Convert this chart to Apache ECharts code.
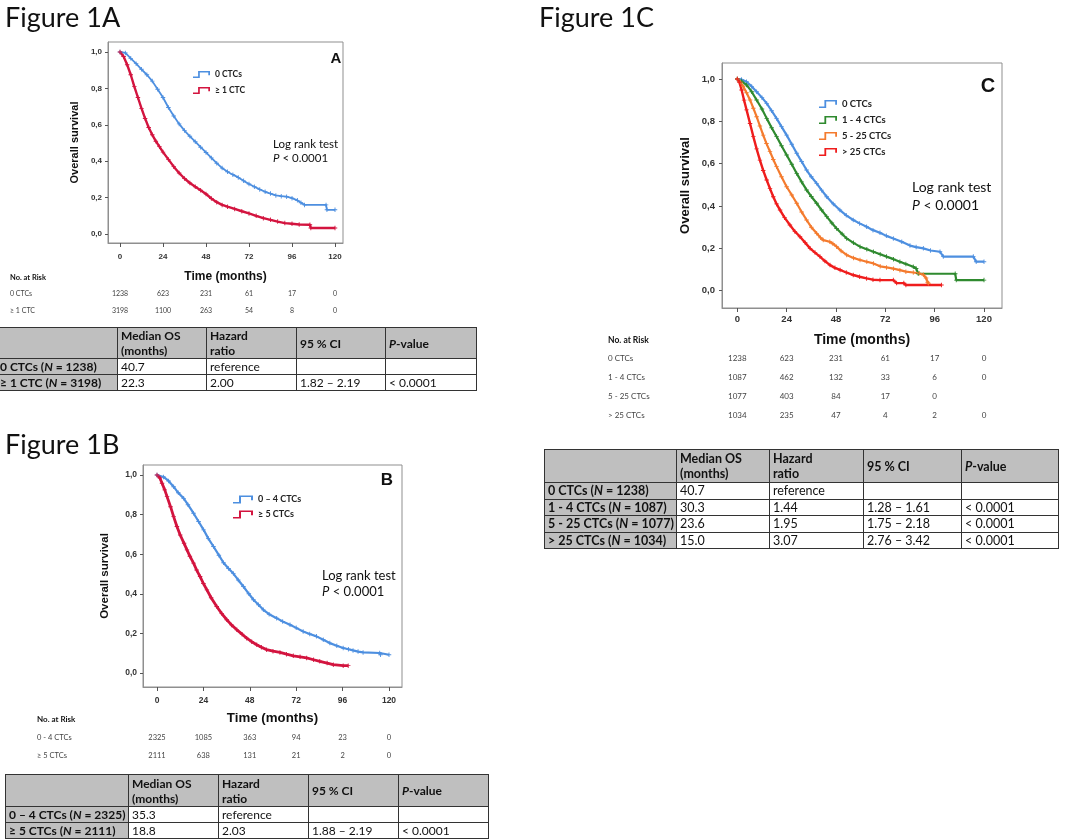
<!DOCTYPE html>
<html>
<head>
<meta charset="utf-8">
<title>Figure 1 - overall survival by CTC count</title>
<script src="https://cdn.jsdelivr.net/npm/echarts@6/dist/echarts.min.js"></script>
<style>
    html, body { margin: 0; padding: 0; background: #fff; }
    #page { position: relative; width: 1080px; height: 839px; overflow: hidden; font-family: Lato, "Open Sans", sans-serif; color: #111; }
    #chart { position: absolute; left: 0; top: 0; width: 1080px; height: 839px; }
    .txt { position: absolute; white-space: nowrap; }
    .fig { font-size: 27px; line-height: 32px; }
    .letter { font-family: "Liberation Sans", Arial, sans-serif; font-weight: bold; transform: translate(-50%, -50%); }
    .risk { position: absolute; white-space: nowrap; color: #444; transform: translateY(-50%); }
    .risk.num { transform: translate(-50%, -50%); }
    .risk.head { font-weight: bold; color: #111; }
    table.sum { position: absolute; border-collapse: collapse; table-layout: fixed; font-size: 12px; line-height: 15px; }
    table.sum td { border: 1.5px solid #333; padding: 0 3px; background: #fff; vertical-align: middle; white-space: nowrap; overflow: hidden; }
    table.sum tr:first-child td { background: #bfbfbf; font-weight: bold; }
    table.sum td:first-child { background: #bfbfbf; font-weight: bold; }
</style>
</head>
<body>
<div id="page">
    <div id="chart"></div>
</div>
<script>
    // ticks shared by the three panels
    var timeTicks = [0, 24, 48, 72, 96, 120];
    var survTicks = [0, 0.2, 0.4, 0.6, 0.8, 1.0];

    // Figure 1A, [month, overall survival]
    var survA0 = [[0,1],[3,0.995],[6,0.965],[9,0.936],[12,0.905],[15,0.875],[18,0.84],[21,0.795],[24,0.75],[27,0.695],[30,0.648],[33,0.605],[36,0.568],[39,0.537],[42,0.507],[45,0.477],[48,0.448],[51,0.418],[54,0.389],[57,0.362],[60,0.342],[63,0.326],[66,0.311],[69,0.292],[72,0.275],[75,0.26],[78,0.245],[81,0.232],[84,0.222],[87,0.212],[90,0.208],[93,0.205],[96,0.197],[99,0.185],[101,0.172],[103,0.16],[115,0.16],[115.5,0.133],[120,0.133]];
    var survA1 = [[0,1],[2,0.975],[4,0.93],[6,0.875],[8,0.81],[10,0.75],[12,0.69],[14,0.635],[16,0.585],[18,0.545],[20,0.51],[22,0.48],[24,0.45],[27,0.41],[30,0.37],[33,0.335],[36,0.305],[39,0.28],[42,0.26],[45,0.24],[48,0.22],[51,0.195],[54,0.175],[57,0.16],[60,0.15],[64,0.138],[68,0.125],[72,0.113],[76,0.1],[80,0.087],[84,0.078],[88,0.068],[92,0.06],[96,0.056],[100,0.052],[106,0.051],[106.5,0.033],[120,0.033]];

    // Figure 1B
    var survB0 = [[0,1],[3.4,0.99],[6,0.97],[8.6,0.941],[11,0.91],[13.8,0.882],[16,0.85],[18.9,0.807],[21.5,0.765],[24.1,0.723],[26.5,0.68],[29.2,0.639],[32,0.595],[34.4,0.557],[37,0.528],[39.5,0.502],[42,0.47],[44.7,0.437],[47.5,0.4],[49.9,0.37],[52.5,0.345],[55,0.319],[58,0.297],[61.9,0.277],[65,0.26],[68.8,0.244],[72,0.228],[75.6,0.21],[79,0.197],[82.5,0.185],[86,0.168],[89.4,0.151],[93,0.138],[96.3,0.126],[99,0.12],[101.4,0.114],[104,0.108],[106.6,0.104],[115.2,0.101],[115.6,0.092],[120,0.092]];
    var survB1 = [[0,1],[1.5,0.985],[2.6,0.958],[4,0.925],[5.2,0.891],[7,0.84],[8.6,0.79],[10.3,0.74],[12,0.697],[14,0.655],[15.5,0.622],[17,0.59],[18.9,0.555],[20.5,0.52],[22.3,0.487],[24,0.452],[25.8,0.42],[28,0.38],[30.9,0.336],[33.5,0.3],[36.1,0.269],[38.5,0.243],[41.3,0.218],[44,0.196],[46.4,0.176],[49,0.158],[51.6,0.143],[54,0.13],[56.7,0.118],[60,0.11],[63.6,0.104],[67,0.095],[70.5,0.087],[74,0.082],[77.4,0.076],[81,0.067],[84.2,0.059],[88,0.05],[91.2,0.042],[96.3,0.037],[98.9,0.037]];

    // Figure 1C
    var survC0 = [[0,1],[2,0.998],[4.5,0.987],[7,0.965],[9.4,0.94],[12,0.912],[14.3,0.885],[16.7,0.85],[19.1,0.814],[21.5,0.775],[24,0.735],[26.5,0.692],[28.9,0.649],[31.3,0.61],[33.7,0.57],[36,0.538],[38.6,0.507],[41,0.475],[43.5,0.444],[46.7,0.41],[49.9,0.381],[53,0.356],[56.4,0.334],[59.5,0.318],[62.9,0.302],[66,0.286],[69.4,0.274],[72.5,0.259],[75.9,0.247],[80,0.231],[84,0.213],[87,0.206],[90.5,0.2],[94,0.19],[98.6,0.184],[100.2,0.161],[114.8,0.161],[116.2,0.137],[120,0.137]];
    var survC1 = [[0,1],[2,0.99],[4.5,0.972],[7,0.94],[9.4,0.901],[12,0.858],[14.3,0.814],[16.7,0.77],[19.1,0.728],[21.5,0.685],[24,0.641],[26.5,0.597],[28.9,0.554],[31.3,0.514],[33.7,0.476],[36,0.445],[38.6,0.413],[41,0.381],[43.5,0.35],[46,0.32],[48.3,0.294],[51,0.268],[53.2,0.247],[56.5,0.226],[59.7,0.208],[63,0.196],[66.2,0.184],[69.5,0.172],[72.6,0.161],[76,0.149],[79.1,0.137],[82,0.126],[85.6,0.113],[87,0.105],[88,0.08],[106,0.08],[106.5,0.05],[120,0.05]];
    var survC2 = [[0,1],[1.5,0.985],[2.9,0.964],[4.5,0.935],[6.2,0.901],[7.8,0.862],[9.4,0.822],[11,0.778],[12.6,0.735],[14.2,0.695],[15.9,0.657],[17.5,0.62],[19.1,0.586],[21.5,0.538],[24,0.491],[26.5,0.452],[28.9,0.413],[31.3,0.372],[33.7,0.334],[36,0.3],[38.6,0.271],[40.5,0.25],[41.8,0.239],[45,0.231],[46.5,0.222],[48.3,0.208],[50.5,0.188],[53.2,0.169],[56.5,0.155],[59.7,0.145],[63,0.137],[66.2,0.129],[69.5,0.115],[72.6,0.11],[76,0.104],[79.1,0.097],[82,0.09],[85.6,0.086],[88.5,0.082],[90.5,0.075],[91.8,0.06],[92.6,0.04],[93,0.035]];
    var survC3 = [[0,1],[1,0.985],[2.1,0.948],[3.3,0.9],[4.5,0.854],[6.2,0.79],[7.8,0.728],[9.4,0.67],[11,0.617],[12.6,0.568],[14.3,0.523],[15.9,0.482],[17.5,0.444],[19.1,0.41],[20.8,0.381],[23,0.345],[25.6,0.31],[28,0.28],[30.5,0.255],[33,0.227],[35.4,0.2],[37.8,0.18],[40.2,0.161],[42.6,0.14],[45.1,0.121],[47.5,0.108],[50,0.098],[53,0.086],[56.4,0.074],[59.5,0.066],[62.9,0.058],[66,0.052],[69.4,0.05],[75.9,0.05],[77.5,0.036],[81,0.036],[82,0.027],[99.3,0.027]];

    // numbers at risk (0, 24, 48, 72, 96, 120 months)
    var riskA0 = [1238, 623, 231, 61, 17, 0];
    var riskA1 = [3198, 1100, 263, 54, 8, 0];
    var riskB0 = [2325, 1085, 363, 94, 23, 0];
    var riskB1 = [2111, 638, 131, 21, 2, 0];
    var riskC0 = [1238, 623, 231, 61, 17, 0];
    var riskC1 = [1087, 462, 132, 33, 6, 0];
    var riskC2 = [1077, 403, 84, 17, 0, ""];
    var riskC3 = [1034, 235, 47, 4, 2, 0];

    // summary tables
    var tableHead = ["", "Median OS<br>(months)", "Hazard<br>ratio", "95 % CI", "<i>P</i>-value"];
    var groupsA = ["0 CTCs (<i>N</i> = 1238)", "≥ 1 CTC (<i>N</i> = 3198)"];
    var medianA = ["40.7", "22.3"];
    var hrA = ["reference", "2.00"];
    var ciA = ["", "1.82 – 2.19"];
    var pA = ["", "< 0.0001"];
    var groupsB = ["0 – 4 CTCs (<i>N</i> = 2325)", "≥ 5 CTCs (<i>N</i> = 2111)"];
    var medianB = ["35.3", "18.8"];
    var hrB = ["reference", "2.03"];
    var ciB = ["", "1.88 – 2.19"];
    var pB = ["", "< 0.0001"];
    var groupsC = ["0 CTCs (<i>N</i> = 1238)", "1 - 4 CTCs (<i>N</i> = 1087)", "5 - 25 CTCs (<i>N</i> = 1077)", "> 25 CTCs (<i>N</i> = 1034)"];
    var medianC = ["40.7", "30.3", "23.6", "15.0"];
    var hrC = ["reference", "1.44", "1.95", "3.07"];
    var ciC = ["", "1.28 – 1.61", "1.75 – 2.18", "2.76 – 3.42"];
    var pC = ["", "< 0.0001", "< 0.0001", "< 0.0001"];

    var BLUE = "#4d8fe0", CRIMSON = "#d3143f", GREEN = "#2f8a2f", ORANGE = "#f47b2e", RED = "#ef1d1d";
    var stepIcon = "path://M0,8 L6,8 L6,0 L20,0 L20,6 L18,6 L18,2 L8,2 L8,10 L0,10 Z";
    // censor mark
    var plusMark = "path://M4,0 L6,0 L6,4 L10,4 L10,6 L6,6 L6,10 L4,10 L4,6 L0,6 L0,4 L4,4 Z";

    // frame box in px, and where month 0/120 and survival 0/1 fall inside it
    var panels = [
        { box: [108, 42, 343, 243], x0: 120, x120: 335, y1: 52, y0: 234, tick: 8, xm: 10, ym: 6, xName: 12, xGap: 28, yName: 11, yGap: 27.5 },
        { box: [143, 465, 402, 687], x0: 157, x120: 389, y1: 475, y0: 673, tick: 8.5, xm: 9, ym: 6, xName: 13.3, xGap: 25, yName: 11.5, yGap: 32 },
        { box: [722, 63, 1002, 308], x0: 737.3, x120: 984, y1: 79, y0: 290.7, tick: 9.5, xm: 6, ym: 7, xName: 14, xGap: 25, yName: 13, yGap: 30.5 }
    ];

    var grids = [], xAxes = [], yAxes = [];
    panels.forEach(function(p, i) {
        var b = p.box;
        var pxM = (p.x120 - p.x0) / 120;
        var pxS = p.y0 - p.y1;
        grids.push({
            left: b[0], top: b[1], width: b[2] - b[0], height: b[3] - b[1],
            show: true, borderColor: "#8f8f8f", borderWidth: 1, backgroundColor: "#fff"
        });
        xAxes.push({
            gridIndex: i, type: "value", position: "bottom",
            min: -(p.x0 - b[0]) / pxM, max: 120 + (b[2] - p.x120) / pxM,
            axisLine: { show: true, onZero: false, lineStyle: { color: "#8f8f8f", width: 1 } }, splitLine: { show: false },
            axisTick: { show: true, length: 4, customValues: timeTicks, lineStyle: { color: "#555" } },
            axisLabel: { customValues: timeTicks, fontSize: p.tick, fontWeight: "bold", color: "#333", margin: p.xm, fontFamily: "Liberation Sans" },
            name: "Time (months)", nameLocation: "middle", nameGap: p.xGap,
            nameTextStyle: { fontSize: p.xName, fontWeight: "bold", color: "#111", fontFamily: "Liberation Sans" }
        });
        yAxes.push({
            gridIndex: i, type: "value", position: "left",
            min: -(b[3] - p.y0) / pxS, max: 1 + (p.y1 - b[1]) / pxS,
            axisLine: { show: true, onZero: false, lineStyle: { color: "#8f8f8f", width: 1 } }, splitLine: { show: false },
            axisTick: { show: true, length: 3, customValues: survTicks, lineStyle: { color: "#555" } },
            axisLabel: {
                customValues: survTicks, fontSize: p.tick, fontWeight: "bold", color: "#333", margin: p.ym, fontFamily: "Liberation Sans",
                formatter: function(v) { return v.toFixed(1).replace(".", ","); }
            },
            name: "Overall survival", nameLocation: "middle", nameGap: p.yGap, nameRotate: 90,
            nameTextStyle: { fontSize: p.yName, fontWeight: "bold", color: "#111", fontFamily: "Liberation Sans" }
        });
    });

    function curve(name, data, idx, color, width) {
        return {
            name: name, type: "line", data: data, xAxisIndex: idx, yAxisIndex: idx,
            showSymbol: true, symbol: plusMark, symbolSize: 4.5,
            color: color, itemStyle: { color: color }, lineStyle: { width: width, color: color }
        };
    }

    function legendAt(names, left, top, w, h, fs) {
        return {
            data: names, orient: "vertical", left: left, top: top, padding: 0,
            icon: stepIcon, itemWidth: w, itemHeight: h, itemGap: 14 - h, symbolKeepAspect: false,
            textStyle: { fontSize: fs, fontWeight: "bold", color: "#222", fontFamily: "Lato" },
            selectedMode: false
        };
    }

    var chart = echarts.init(document.getElementById("chart"));
    chart.setOption({
        animation: false,
        grid: grids,
        xAxis: xAxes,
        yAxis: yAxes,
        legend: [
            legendAt(["0 CTCs", "≥ 1 CTC"], 193, 70, 17, 7, 8.5),
            legendAt(["0 – 4 CTCs", "≥ 5 CTCs"], 233, 495, 20, 8, 9),
            legendAt(["0 CTCs ", "1 - 4 CTCs", "5 - 25 CTCs", "> 25 CTCs"], 819, 99, 18, 8, 9.5)
        ],
        series: [
            curve("0 CTCs", survA0, 0, BLUE, 1.8),
            curve("≥ 1 CTC", survA1, 0, CRIMSON, 2.4),
            curve("0 – 4 CTCs", survB0, 1, BLUE, 2.2),
            curve("≥ 5 CTCs", survB1, 1, CRIMSON, 2.8),
            curve("0 CTCs ", survC0, 2, BLUE, 2.2),
            curve("1 - 4 CTCs", survC1, 2, GREEN, 2.2),
            curve("5 - 25 CTCs", survC2, 2, ORANGE, 2.2),
            curve("> 25 CTCs", survC3, 2, RED, 2.4)
        ]
    });

    var page = document.getElementById("page");

    function addText(html, cls, left, top, style) {
        var d = document.createElement("div");
        d.className = cls;
        d.innerHTML = html;
        d.style.left = left + "px";
        d.style.top = top + "px";
        for (var k in style) { d.style[k] = style[k]; }
        page.appendChild(d);
        return d;
    }

    // figure titles
    addText("Figure 1A", "txt fig", 5, 1, {});
    addText("Figure 1B", "txt fig", 5, 428, {});
    addText("Figure 1C", "txt fig", 539, 1, {});

    // panel letters
    addText("A", "txt letter", 336, 57, { fontSize: "15px" });
    addText("B", "txt letter", 387, 480, { fontSize: "17px" });
    addText("C", "txt letter", 988, 85, { fontSize: "20px" });

    // log rank test labels
    function logRank(left, top, fs) {
        addText("Log rank test<br><i>P</i> &lt; 0.0001", "txt", left, top, { fontSize: fs + "px", lineHeight: (fs * 1.25) + "px" });
    }
    logRank(273, 137, 11.5);
    logRank(322, 567, 13);
    logRank(912, 178, 14);

    // numbers at risk under each panel, columns aligned on the time ticks
    function riskTable(p, labelX, headY, rowYs, labels, rows, fs) {
        addText("No. at Risk", "risk head", labelX, headY, { fontSize: (fs + 0.5) + "px" });
        rows.forEach(function(row, r) {
            addText(labels[r], "risk", labelX, rowYs[r], { fontSize: fs + "px" });
            row.forEach(function(n, c) {
                var x = p.x0 + (p.x120 - p.x0) * timeTicks[c] / 120;
                addText(String(n), "risk num", x, rowYs[r], { fontSize: fs + "px" });
            });
        });
    }
    riskTable(panels[0], 10, 277, [293, 310], ["0 CTCs", "≥ 1 CTC"], [riskA0, riskA1], 7);
    riskTable(panels[1], 37, 719, [737, 755], ["0 - 4 CTCs", "≥ 5 CTCs"], [riskB0, riskB1], 7.5);
    riskTable(panels[2], 608, 340, [358, 377, 396, 415], ["0 CTCs", "1 - 4 CTCs", "5 - 25 CTCs", "> 25 CTCs"], [riskC0, riskC1, riskC2, riskC3], 8);

    // summary tables
    function sumTable(left, top, widths, headH, rowH, cols, fs) {
        var t = document.createElement("table");
        t.className = "sum";
        t.style.left = left + "px";
        t.style.top = top + "px";
        t.style.fontSize = fs + "px";
        var total = 0;
        var html = "<colgroup>";
        widths.forEach(function(w) { html += "<col style='width:" + w + "px'>"; total += w; });
        html += "</colgroup><tr style='height:" + headH + "px'>";
        tableHead.forEach(function(h) { html += "<td>" + h + "</td>"; });
        html += "</tr>";
        for (var r = 0; r < cols[0].length; r++) {
            html += "<tr style='height:" + rowH + "px'>";
            cols.forEach(function(col) { html += "<td>" + col[r] + "</td>"; });
            html += "</tr>";
        }
        t.style.width = total + "px";
        t.innerHTML = html;
        page.appendChild(t);
    }
    sumTable(-4, 327, [121, 89, 90, 89, 91], 31, 16, [groupsA, medianA, hrA, ciA, pA], 12);
    sumTable(5, 774, [123, 90, 90, 90, 90], 32, 15, [groupsB, medianB, hrB, ciB, pB], 12);
    sumTable(544, 449, [132, 93, 94, 98, 97], 33, 16.5, [groupsC, medianC, hrC, ciC, pC], 12.5);
</script>
</body>
</html>
